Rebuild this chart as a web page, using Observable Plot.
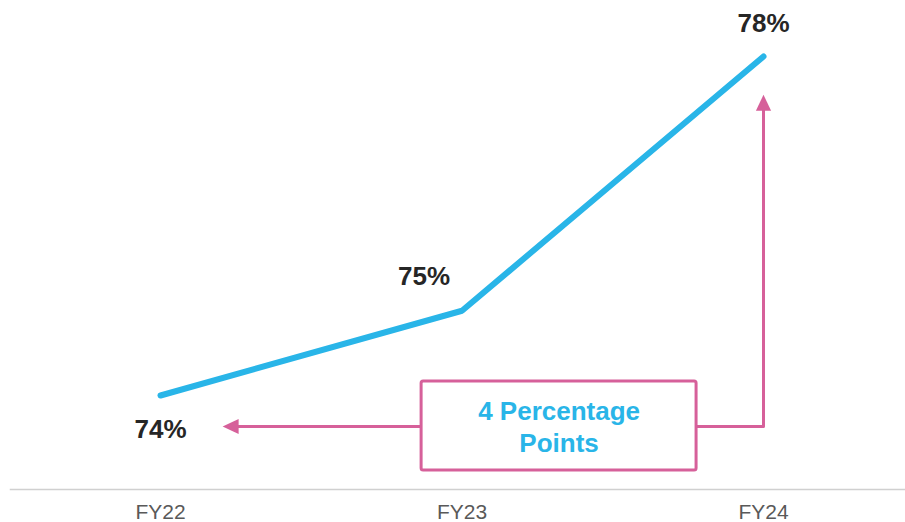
<!DOCTYPE html>
<html>
<head>
<meta charset="utf-8">
<script src="https://cdn.jsdelivr.net/npm/d3@7"></script>
<script src="https://cdn.jsdelivr.net/npm/@observablehq/plot@0.6"></script>
<style>
  html, body { margin: 0; padding: 0; background: #fff; }
  #chart { width: 905px; height: 522px; }
  svg { font-family: "Liberation Sans", Arial, sans-serif; }
</style>
</head>
<body>
<div id="chart"></div>
<script>
// ---- data ----
const categories = ["FY22", "FY23", "FY24"];
const values = [74, 75, 78];
const labels = ["74%", "75%", "78%"];

// ---- annotation (in data space) ----
const boxText = "4 Percentage\nPoints";
const boxExtent = {x1: 0.866, x2: 1.778, y1: 73.115, y2: 74.165};
const arrowLevel = 73.634;     // y of horizontal connector
const leftArrowTip = 0.206;    // x of left arrow tip
const upArrowTip = 77.55;      // y of up arrow tip

const data = categories.map((c, i) => ({i, cat: c, v: values[i], label: labels[i]}));

const blue = "#29b5e8";
const pink = "#d6609a";

const arrowHead = {
  draw(context, size) {
    const r = Math.sqrt(size / Math.PI);
    const w = r * 1.9, h = r * 2;
    context.moveTo(0, 0);
    context.lineTo(-w / 2, h);
    context.lineTo(w / 2, h);
    context.closePath();
  }
};

const boxMidX = (boxExtent.x1 + boxExtent.x2) / 2;
const boxMidY = (boxExtent.y1 + boxExtent.y2) / 2;

const chart = Plot.plot({
  width: 905,
  height: 522,
  marginLeft: 10,
  marginRight: 0,
  marginTop: 0,
  marginBottom: 33,
  x: {type: "linear", domain: [0, 2], range: [160, 763]},
  y: {type: "linear", domain: [74, 78], range: [395, 56], axis: null},
  marks: [
    Plot.frame({anchor: "bottom", stroke: "#d0d0d0", strokeWidth: 1.5, strokeOpacity: 1}),
    Plot.axisX({
      ticks: categories.map((_, i) => i),
      tickFormat: i => categories[i],
      tickSize: 0,
      tickPadding: 15,
      fontSize: 21,
      color: "#595959",
      label: null
    }),
    // connectors
    Plot.link([{x1: leftArrowTip + 0.04, x2: boxExtent.x1, y: arrowLevel}], {
      x1: "x1", x2: "x2", y1: "y", y2: "y", stroke: pink, strokeWidth: 3
    }),
    Plot.line([
      {x: boxExtent.x2, y: arrowLevel},
      {x: 2, y: arrowLevel},
      {x: 2, y: upArrowTip - 0.1}
    ], {x: "x", y: "y", stroke: pink, strokeWidth: 3, curve: "linear"}),
    Plot.dot([{x: leftArrowTip, y: arrowLevel}], {
      x: "x", y: "y", symbol: arrowHead, r: 8, rotate: -90, fill: pink, stroke: "none"
    }),
    Plot.dot([{x: 2, y: upArrowTip}], {
      x: "x", y: "y", symbol: arrowHead, r: 8, fill: pink, stroke: "none"
    }),
    Plot.rect([boxExtent], {
      x1: "x1", x2: "x2", y1: "y1", y2: "y2",
      fill: "white", stroke: pink, strokeWidth: 3, rx: 2
    }),
    Plot.text([boxText], {
      x: () => boxMidX, y: () => boxMidY, text: d => d,
      fill: blue, fontSize: 26, fontWeight: "bold", lineHeight: 1.24
    }),
    // main line
    Plot.line(data, {
      x: "i", y: "v", stroke: blue, strokeWidth: 6,
      strokeLinecap: "round", strokeLinejoin: "round"
    }),
    // value labels
    Plot.text(data.filter(d => d.i === 0), {
      x: "i", y: "v", text: "label", dy: 34, fontSize: 26, fontWeight: "bold", fill: "#262626"
    }),
    Plot.text(data.filter(d => d.i === 1), {
      x: "i", y: "v", text: "label", dx: -38, dy: -34, fontSize: 26, fontWeight: "bold", fill: "#262626"
    }),
    Plot.text(data.filter(d => d.i === 2), {
      x: "i", y: "v", text: "label", dy: -33, fontSize: 26, fontWeight: "bold", fill: "#262626"
    })
  ]
});

document.getElementById("chart").appendChild(chart);
</script>
</body>
</html>
